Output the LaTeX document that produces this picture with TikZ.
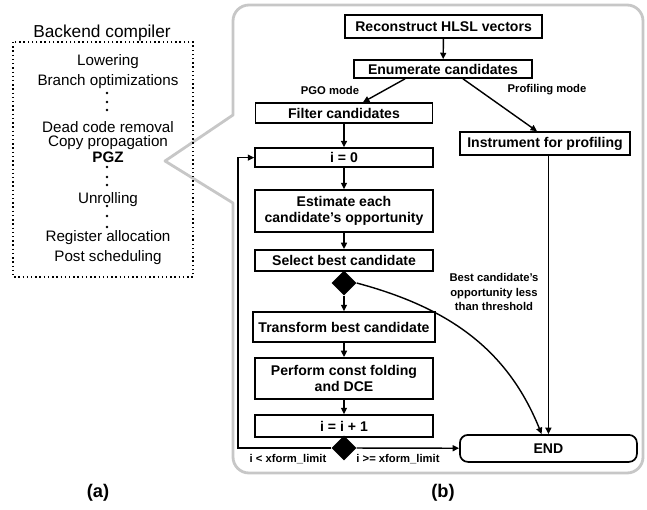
\documentclass[tikz,border=0pt]{standalone}
\usepackage{fontspec}
\setmainfont{Liberation Sans}
\usetikzlibrary{arrows.meta,shapes.geometric}

\begin{document}
\begin{tikzpicture}[
    stepbox/.style={draw, line width=1.2pt, minimum width=4.45cm, inner sep=1pt, align=center, font=\fontsize{10}{11.5}\selectfont\bfseries},
    decide/.style={diamond, fill=black, minimum size=0.62cm, inner sep=0pt},
    flow/.style={line width=1pt, -{Triangle[length=1.6mm,width=1.5mm]}},
    note/.style={font=\fontsize{8}{10}\selectfont\bfseries, align=center},
    stage/.style={font=\fontsize{10.8}{12}\selectfont}]

    \useasboundingbox (0,0) rectangle (16.175,-12.725);

    % callout frame
    \draw [line width=2pt, color=black!22, line join=round] (4.125,-4.025) -- (5.825,-2.875) -- (5.825,-1) [rounded corners=0.4cm] -- (5.825,-0.125) -- (16.075,-0.125) -- (16.075,-11.825) -- (5.825,-11.825) [sharp corners] -- (5.825,-5.075) -- cycle;

    % (a) backend compiler
    \node[font=\fontsize{12.3}{14}\selectfont] (title) at (2.55,-0.825) {Backend compiler};
    \draw [line width=1pt, dotted] (0.325,-1.05) rectangle (4.825,-6.925);
    \node[stage] (lower) at (2.7,-1.55) {Lowering};
    \node[stage] (branch) at (2.7,-2.05) {Branch optimizations};
    \node[stage] (dead) at (2.7,-3.175) {Dead code removal};
    \node[stage] (copy) at (2.7,-3.575) {Copy propagation};
    \node[stage] (pgz) at (2.7,-3.925) {\textbf{PGZ}};
    \node[stage] (unroll) at (2.7,-5.0) {Unrolling};
    \node[stage] (regalloc) at (2.7,-5.95) {Register allocation};
    \node[stage] (post) at (2.7,-6.45) {Post scheduling};
    \foreach \y in {-2.325,-2.55,-2.75,-4.175,-4.425,-4.625,-5.15,-5.4,-5.675}
        \fill (2.675,\y) circle (0.035);

    % (b) flow
    \node[stepbox, minimum width=4.93cm, minimum height=0.575cm] (recon) at (11.09,-0.66) {Reconstruct HLSL vectors};
    \node[stepbox, minimum height=0.45cm] (enum) at (11.075,-1.725) {Enumerate candidates};
    \node[stepbox, minimum width=4.43cm, minimum height=0.5cm] (filter) at (8.6,-2.825) {Filter candidates};
    \node[stepbox, minimum width=4.25cm, minimum height=0.575cm] (instr) at (13.625,-3.59) {Instrument for profiling};
    \node[stepbox, minimum height=0.475cm] (izero) at (8.6,-3.94) {i = 0};
    \node[stepbox, minimum height=1.05cm] (estim) at (8.6,-5.275) {Estimate each\\candidate's opportunity};
    \node[stepbox, minimum height=0.525cm] (select) at (8.6,-6.51) {Select best candidate};
    \node[decide] (pick) at (8.6,-7.075) {};
    \node[stepbox, minimum width=4.55cm, minimum height=0.75cm] (xform) at (8.6,-8.175) {Transform best candidate};
    \node[stepbox, minimum height=1.025cm] (fold) at (8.6,-9.46) {Perform const folding\\and DCE};
    \node[stepbox, minimum height=0.55cm] (incr) at (8.6,-10.65) {i = i + 1};
    \node[decide] (limit) at (8.6,-11.2) {};
    \node[stepbox, rounded corners=0.2cm, minimum width=4.425cm, minimum height=0.675cm] (finish) at (13.71,-11.21) {END};
    \coordinate (back) at (5.95,-11.2);

    \node[note] (pgo) at (8.25,-2.25) {PGO mode};
    \node[note] (prof) at (13.675,-2.25) {Profiling mode};
    \node[note] (thresh) at (12.35,-7.3) {Best candidate's\\opportunity less\\than threshold};
    \node[note] (lt) at (7.2,-11.475) {i < xform\_limit};
    \node[note] (ge) at (9.95,-11.475) {i >= xform\_limit};

    \draw[flow] (recon) -- (enum);
    \draw[flow] ([xshift=-0.95cm]enum.south) -- ([xshift=0.475cm]filter.north);
    \draw[flow] ([xshift=0.5cm]enum.south) -- ([xshift=-0.2cm]instr.north);
    \draw[flow] (filter) -- (izero);
    \draw[flow] (izero) -- (estim);
    \draw[flow] (estim) -- (select);
    \draw[flow] (pick) -- (xform);
    \draw[flow] (xform) -- (fold);
    \draw[flow] (fold) -- (incr);
    \draw[flow] (limit) -- (finish);
    \draw[flow] (limit.west) -- (back) |- (izero.west);
    \draw[flow] (instr.south -| finish.north) -- (finish.north);
    \draw[flow] (pick.east) to[out=-15, in=112] ([xshift=-0.17cm]finish.north);

    \node[font=\fontsize{13}{15}\selectfont\bfseries] (capa) at (2.45,-12.325) {(a)};
    \node[font=\fontsize{13}{15}\selectfont\bfseries] (capb) at (11.075,-12.325) {(b)};
\end{tikzpicture}
\end{document}
